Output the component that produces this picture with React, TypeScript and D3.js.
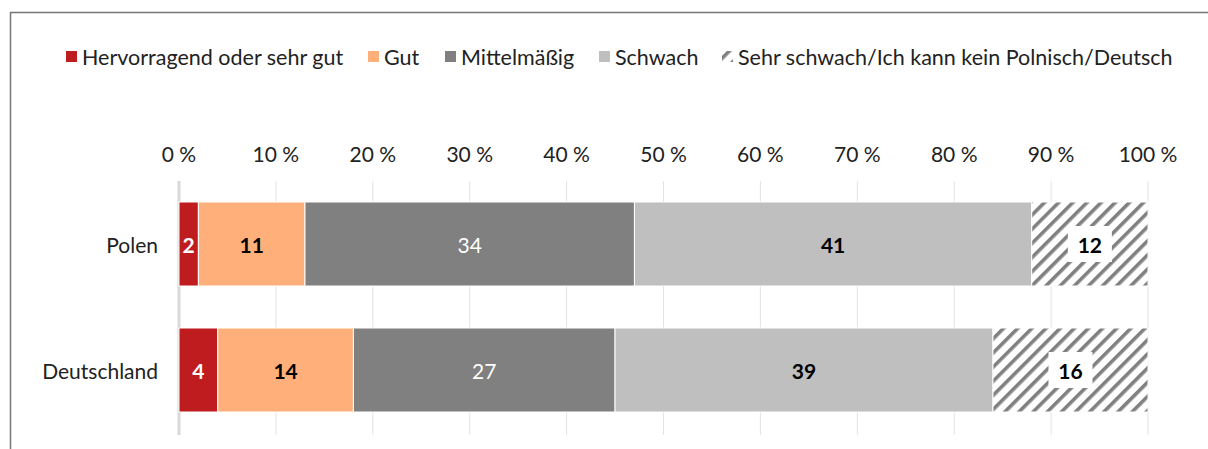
import React from "react";
import * as d3 from "d3";

const categories = ["Polen", "Deutschland"];
const seriesNames = [
  "Hervorragend oder sehr gut",
  "Gut",
  "Mittelmäßig",
  "Schwach",
  "Sehr schwach/Ich kann kein Polnisch/Deutsch",
];
const hervorragend = [2, 4];
const gut = [11, 14];
const mittel = [34, 27];
const schwach = [41, 39];
const sehrSchwach = [12, 16];
const xTicks = [0, 10, 20, 30, 40, 50, 60, 70, 80, 90, 100];

const colors = ["#BE1C1F", "#FFB07A", "#808080", "#BFBFBF", "url(#hatch)"];
const labelColors = ["#fff", "#000", "#fff", "#000", "#000"];
const labelWeights = [700, 700, 400, 700, 700];

export default function App() {
  const W = 1208, H = 449;
  const x = d3.scaleLinear().domain([0, 100]).range([179, 1148]);
  const y = d3.scaleBand().domain(categories).range([181, 433]).paddingInner(1 / 3).paddingOuter(1 / 6);
  const series = [hervorragend, gut, mittel, schwach, sehrSchwach];
  const font = "Lato, 'Open Sans', sans-serif";

  const legendX = [66, 368, 445, 599, 722];

  return (
    <svg width={W} height={H} style={{ position: "absolute", left: 0, top: 0, fontFamily: font }}>
      <defs>
        <pattern id="hatch" patternUnits="userSpaceOnUse" width="10" height="10" patternTransform="rotate(45)">
          <rect width="10" height="10" fill="#fff" />
          <rect x="0" y="0" width="3.6" height="10" fill="#808080" />
        </pattern>
      </defs>
      <rect width={W} height={H} fill="#fff" />
      <line x1={10.5} y1={12} x2={10.5} y2={H} stroke="#767676" strokeWidth={1.5} />
      <line x1={10} y1={12.5} x2={W} y2={12.5} stroke="#767676" strokeWidth={1.5} />

      {seriesNames.map((s, i) => (
        <g key={s}>
          <rect x={legendX[i]} y={51} width={11} height={11} fill={colors[i]} />
          <text x={legendX[i] + 16} y={57} dominantBaseline="central" fontSize={21.5} fill="#222">{s}</text>
        </g>
      ))}

      {xTicks.map((t) => (
        <g key={t}>
          <line x1={x(t)} x2={x(t)} y1={181} y2={435} stroke={t === 0 ? "#d9d9d9" : "#e3e3e3"} strokeWidth={t === 0 ? 3 : 1} />
          <text x={x(t)} y={153} textAnchor="middle" dominantBaseline="central" fontSize={21} fill="#222">{`${t} %`}</text>
        </g>
      ))}

      {categories.map((c, ci) => {
        let acc = 0;
        const y0 = y(c)!;
        const bh = y.bandwidth();
        return (
          <g key={c}>
            <text x={158} y={y0 + bh / 2} textAnchor="end" dominantBaseline="central" fontSize={21} fill="#222">{c}</text>
            {series.map((sv, si) => {
              const v = sv[ci];
              const start = acc;
              acc += v;
              const x0 = x(start), x1 = x(start + v);
              const cx = (x0 + x1) / 2;
              const cy = y0 + bh / 2;
              return (
                <g key={si}>
                  <rect x={x0} y={y0} width={x1 - x0} height={bh} fill={colors[si]} stroke="#fff" strokeWidth={1} />
                  {si === 4 && <rect x={cx - 22} y={cy - 18} width={44} height={36} fill="#fff" />}
                  <text x={cx} y={cy} textAnchor="middle" dominantBaseline="central" fontSize={21} fontWeight={labelWeights[si]} fill={labelColors[si]}>{v}</text>
                </g>
              );
            })}
          </g>
        );
      })}
    </svg>
  );
}
